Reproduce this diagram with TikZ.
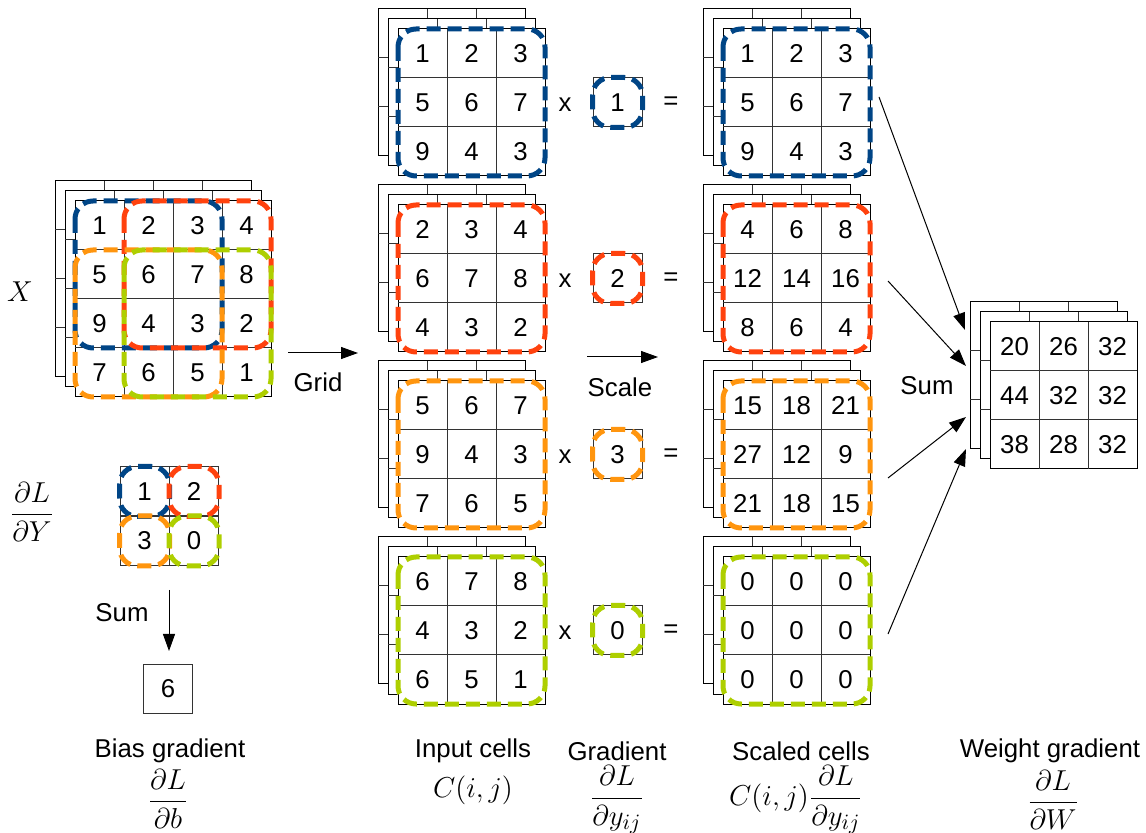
\documentclass[tikz,border=0pt]{standalone}
\usepackage{amsmath}
\usepackage{fontspec}
\setmainfont{Liberation Sans}
\usetikzlibrary{arrows.meta,positioning,calc}
\definecolor{WinBlue}{HTML}{004586}
\definecolor{WinRed}{HTML}{FF420E}
\definecolor{WinOrange}{HTML}{FF950E}
\definecolor{WinGreen}{HTML}{AECF00}

\tikzset{
  layer/.style={draw=black, line width=0.5pt, fill=white},
  cellline/.style={draw=black!80, line width=0.5pt},
  window/.style={line width=2.5pt, dash pattern=on 7pt off 3.5pt, rounded corners=9pt},
  num/.style={inner sep=0pt},
  onecell/.style={draw=black!80, line width=0.5pt, minimum size=24.5pt, inner sep=0pt},
  flow/.style={-{Triangle[length=8.5pt,width=6pt]}, line width=0.5pt},
  mathlbl/.style={font=\fontsize{15.5}{18}\selectfont},
}

\begin{document}
\begin{tikzpicture}[x=0.5pt, y=-0.5pt, font=\fontsize{12.9}{15.5}\selectfont]
  \useasboundingbox (0,0) rectangle (1146,833);

  % Stacks of grids (front corner x / y / size)
  \foreach \sx/\sy/\sn in {75/201/4, 398/29/3, 398/205/3, 398/381/3, 398/557/3,
                           723/29/3, 723/205/3, 723/381/3, 723/557/3, 990/322/3} {
    \pgfmathtruncatemacro{\sm}{\sn - 1}
    \pgfmathsetmacro{\lw}{49*\sn}
    \foreach \l in {2,1,0} {
      \pgfmathsetmacro{\lx}{\sx - 10*\l}
      \pgfmathsetmacro{\ly}{\sy - 10*\l}
      \draw[layer] (\lx,\ly) rectangle ++(\lw,\lw);
      \foreach \c in {1,...,\sm} {
        \draw[cellline] (\lx + 49*\c, \ly) -- ++(0,\lw);
        \draw[cellline] (\lx, \ly + 49*\c) -- ++(\lw,0);
      }
    }
  }

  % Numbers
  \foreach \gx/\gy/\nc/\vals/\nm in {
      75/201/4/{1,2,3,4,5,6,7,8,9,4,3,2,7,6,5,1}/x,
      398/29/3/{1,2,3,5,6,7,9,4,3}/inA,
      398/205/3/{2,3,4,6,7,8,4,3,2}/inB,
      398/381/3/{5,6,7,9,4,3,7,6,5}/inC,
      398/557/3/{6,7,8,4,3,2,6,5,1}/inD,
      723/29/3/{1,2,3,5,6,7,9,4,3}/scA,
      723/205/3/{4,6,8,12,14,16,8,6,4}/scB,
      723/381/3/{15,18,21,27,12,9,21,18,15}/scC,
      723/557/3/{0,0,0,0,0,0,0,0,0}/scD,
      990/322/3/{20,26,32,44,32,32,38,28,32}/w} {
    \foreach \v [count=\k from 0] in \vals {
      \pgfmathtruncatemacro{\cr}{floor(\k/\nc)}
      \pgfmathtruncatemacro{\cc}{\k - \cr*\nc}
      \node[num] (\nm-\k) at (\gx + 49*\cc + 24.5, \gy + 49*\cr + 24.5) {\v};
    }
  }

  % Windows on X
  \draw[window, WinBlue] (75,201) rectangle ++(147,147);
  \draw[window, WinRed] (124,201) rectangle ++(147,147);
  \draw[window, WinOrange] (75,250) rectangle ++(147,147);
  \draw[window, WinGreen] (124,250) rectangle ++(147,147);

  % Input cells x gradient = scaled cells
  \foreach \gy/\col/\g [count=\i] in {29/WinBlue/1, 205/WinRed/2, 381/WinOrange/3, 557/WinGreen/0} {
    \draw[window, \col] (398,\gy) rectangle ++(147,147);
    \draw[window, \col] (723,\gy) rectangle ++(147,147);
    \node[onecell] (grad\i) at (617.5, \gy + 73.5) {\g};
    \draw[window, \col] (grad\i.north west) rectangle (grad\i.south east);
    \node[num] (times\i) at (565, \gy + 76) {x};
    \node[num] (eq\i) at (671, \gy + 74) {=};
  }

  % dL/dY
  \foreach \v/\col [count=\k from 0] in {1/WinBlue, 2/WinRed, 3/WinOrange, 0/WinGreen} {
    \pgfmathtruncatemacro{\cr}{floor(\k/2)}
    \pgfmathtruncatemacro{\cc}{\k - 2*\cr}
    \node[onecell] (dy-\k) at (144.5 + 49.5*\cc, 491.5 + 49.5*\cr) {\v};
  }
  \foreach \k/\col in {0/WinBlue, 1/WinRed, 2/WinOrange, 3/WinGreen}
    \draw[window, \col] (dy-\k.north west) rectangle (dy-\k.south east);

  % Bias
  \node[draw=black!80, line width=0.5pt, minimum size=24.5pt, inner sep=0pt] (bias) at (168,689) {6};
  \coordinate (sumtop) at (169,590);
  \coordinate (sumend) at (169,651);
  \draw[flow] (sumtop) -- (sumend);
  \node (biassum) at (122,613) {Sum};

  % Grid / Scale
  \coordinate (gridS) at (288,353);
  \coordinate (gridE) at (358,353);
  \draw[flow] (gridS) -- (gridE);
  \node (gridlbl) at (318,382) {Grid};
  \coordinate (scaleS) at (587,357);
  \coordinate (scaleE) at (658,357);
  \draw[flow] (scaleS) -- (scaleE);
  \node (scalelbl) at (620,387) {Scale};

  % Sum to weight gradient
  \foreach \ax/\ay/\bx/\by [count=\i] in {879/97/965/330, 888/281/966/366, 888/478/966/417, 888/634/966/449} {
    \coordinate (sumS\i) at (\ax,\ay);
    \coordinate (sumE\i) at (\bx,\by);
    \draw[flow] (sumS\i) -- (sumE\i);
  }
  \node (wsum) at (927,386) {Sum};

  % Labels
  \node[mathlbl] (xlbl) at (20,292) {$X$};
  \node[mathlbl] (dylbl) at (32,512) {$\displaystyle\frac{\partial L}{\partial Y}$};
  \node (biaslbl) at (170,751) {Bias gradient};
  \node[mathlbl] (biasmath) at (168,799) {$\displaystyle\frac{\partial L}{\partial b}$};
  \node (inlbl) at (473,751) {Input cells};
  \node[mathlbl] (inmath) at (473,790) {$C(i,j)$};
  \node (gradlbl) at (617,751) {Gradient};
  \node[mathlbl] (gradmath) at (617,800) {$\displaystyle\frac{\partial L}{\partial y_{ij}}$};
  \node (sclbl) at (801,751) {Scaled cells};
  \node[mathlbl] (scmath) at (796,800) {$\displaystyle C(i,j)\frac{\partial L}{\partial y_{ij}}$};
  \node (wlbl) at (1050,751) {Weight gradient};
  \node[mathlbl] (wmath) at (1053,800) {$\displaystyle\frac{\partial L}{\partial W}$};
\end{tikzpicture}
\end{document}
